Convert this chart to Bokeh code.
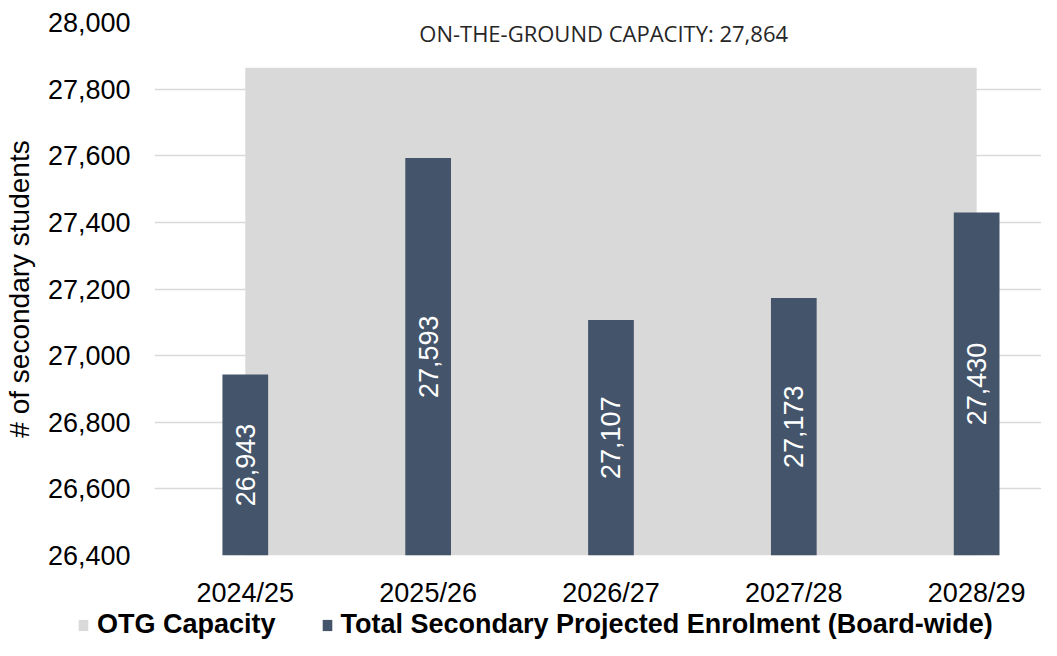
import math
from bokeh.plotting import figure
from bokeh.layouts import column
from bokeh.models import (ColumnDataSource, FixedTicker, NumeralTickFormatter,
                          Legend, LegendItem, Label, Range1d)
from bokeh.core.properties import value
from bokeh.embed import file_html
from bokeh.resources import INLINE

# ---- data ----
years = ["2024/25", "2025/26", "2026/27", "2027/28", "2028/29"]
enrolment = [26943, 27593, 27107, 27173, 27430]
otg_capacity = 27864
y_ticks = [26400, 26600, 26800, 27000, 27200, 27400, 27600, 27800, 28000]
series_names = ["OTG Capacity", "Total Secondary Projected Enrolment (Board-wide)"]

BAR_COLOR = "#44546A"
AREA_COLOR = "#D9D9D9"
FONT = "Liberation Sans"

xs = list(range(len(years)))
y_min, y_max = y_ticks[0], y_ticks[-1]

src = ColumnDataSource(dict(
    x=xs,
    v=enrolment,
    cap=[otg_capacity] * len(xs),
    base=[y_min] * len(xs),
    mid=[(y_min + v) / 2 for v in enrolment],
    lab=[f"{v:,}" for v in enrolment],
))

p = figure(width=1041, height=610, output_backend="svg", toolbar_location=None,
           x_range=Range1d(-0.4966, 4.3547), y_range=Range1d(y_min, y_max),
           min_border_left=152, min_border_right=0, min_border_top=22,
           min_border_bottom=54)
p.outline_line_color = None
p.background_fill_color = "white"
p.frame_align = False

area = p.varea(x="x", y1="base", y2="cap", source=src, fill_color=AREA_COLOR)
bars = p.vbar(x="x", top="v", bottom="base", width=0.25, source=src,
              fill_color=BAR_COLOR, line_color=None)

p.text(x="x", y="mid", text="lab", source=src, angle=math.pi / 2,
       text_color="white", text_font=value(FONT), text_font_size="27px",
       text_align="center", text_baseline="middle")

# capacity annotation
p.add_layout(Label(x=(len(years) - 1) / 2 - 0.04, y=otg_capacity + 105,
                   text=f"ON-THE-GROUND CAPACITY: {otg_capacity:,}",
                   text_font="Open Sans", text_font_size="22px",
                   text_color="#262626", text_align="center",
                   text_baseline="middle"))

# axes
p.yaxis.ticker = FixedTicker(ticks=y_ticks)
p.yaxis.formatter = NumeralTickFormatter(format="0,0")
p.yaxis.axis_label = "# of secondary students"
p.yaxis.axis_label_text_font = FONT
p.yaxis.axis_label_text_font_size = "28px"
p.yaxis.axis_label_text_font_style = "normal"
p.yaxis.axis_label_text_color = "black"
p.yaxis.axis_label_standoff = 10
p.xaxis.ticker = FixedTicker(ticks=xs)
p.xaxis.major_label_overrides = {i: y for i, y in enumerate(years)}
for ax in (p.xaxis, p.yaxis):
    ax.axis_line_color = None
    ax.major_tick_line_color = None
    ax.minor_tick_line_color = None
    ax.major_tick_out = 0
    ax.major_tick_in = 0
    ax.minor_tick_out = 0
    ax.major_label_text_font = FONT
    ax.major_label_text_font_size = "27px"
    ax.major_label_text_color = "black"
p.yaxis.major_label_standoff = 24
p.xaxis.major_label_standoff = 22

p.xgrid.grid_line_color = None
p.ygrid.ticker = FixedTicker(ticks=y_ticks)
p.ygrid.grid_line_color = "#D9D9D9"
p.ygrid.grid_line_width = 1.5

# legend strip (separate figure so the wide legend is not clipped)
lg = figure(width=1041, height=30, output_backend="svg", toolbar_location=None,
            x_range=Range1d(0, 1), y_range=Range1d(0, 1),
            min_border=0, min_border_left=0, min_border_right=0,
            min_border_top=0, min_border_bottom=0)
lg.frame_align = False
lg.axis.visible = False
lg.grid.visible = False
lg.outline_line_color = None
lg_area = lg.varea(x=[5, 6], y1=[5, 5], y2=[6, 6], fill_color=AREA_COLOR)
lg_bar = lg.vbar(x=[5], top=[6], bottom=[5], width=0.1, fill_color=BAR_COLOR,
                 line_color=None)
legend = Legend(items=[LegendItem(label=series_names[0], renderers=[lg_area]),
                       LegendItem(label=series_names[1], renderers=[lg_bar])],
                orientation="horizontal", location=(77, 0),
                label_text_font=FONT, label_text_font_style="bold",
                label_text_font_size="27px", label_text_color="black",
                glyph_width=12, glyph_height=14, label_standoff=8, spacing=45,
                padding=0, margin=0, border_line_color=None,
                background_fill_alpha=0)
lg.add_layout(legend, "center")

layout = column(p, lg, spacing=0)
open("out.html", "w").write(file_html(layout, INLINE))
